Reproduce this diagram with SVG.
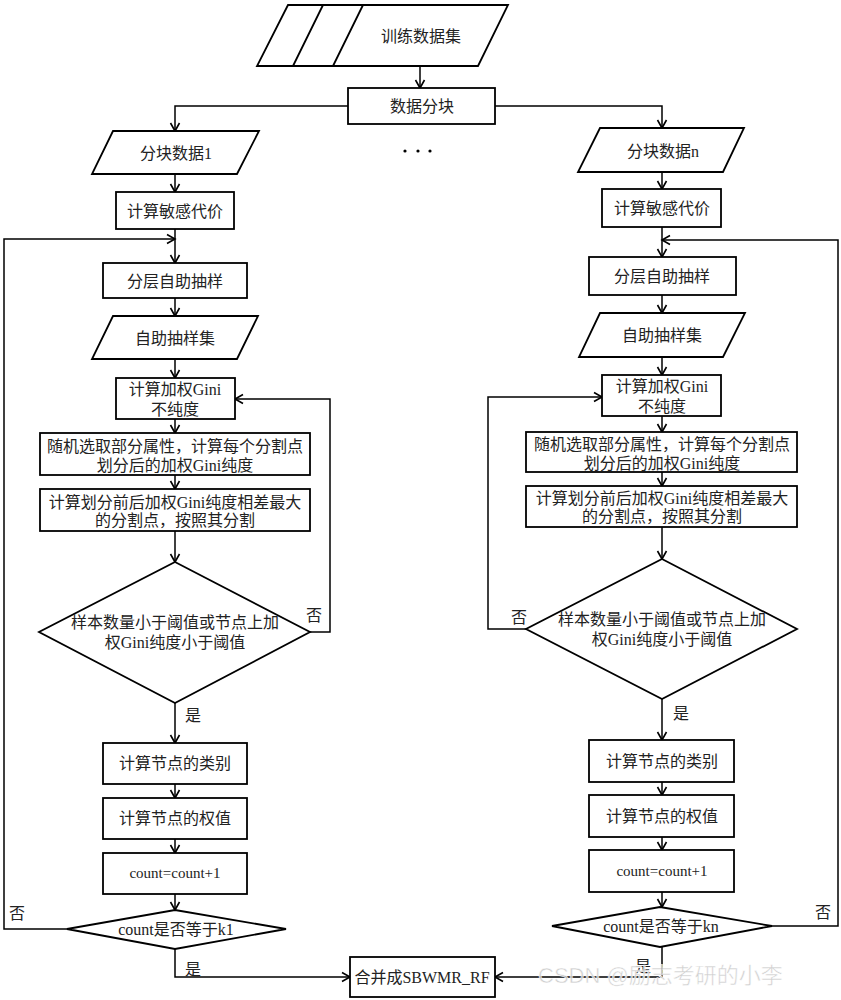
<svg xmlns="http://www.w3.org/2000/svg" width="841" height="1000" viewBox="0 0 841 1000">
<defs>
<marker id="arr" markerUnits="userSpaceOnUse" markerWidth="12" markerHeight="12" refX="9" refY="5" orient="auto" viewBox="0 0 12 10">
<path d="M1,0.5 L9,5 L1,9.5" fill="none" stroke="#000" stroke-width="1.6"/>
</marker>
<style>
.s{fill:#fff;stroke:#000;stroke-width:1.8}
.c{fill:none;stroke:#000;stroke-width:1.5}
.t{font-family:"Liberation Serif","Noto Sans CJK SC",serif;font-size:16px;fill:#222;text-anchor:middle;dominant-baseline:central}
.sm{font-size:15px}
.wm{font-family:"Liberation Sans","Noto Sans CJK SC",sans-serif;font-size:22px;fill:#c8c8c8;fill-opacity:0.85;stroke:#fff;stroke-width:0.5;text-anchor:start;dominant-baseline:central}
</style>
</defs>
<rect width="841" height="1000" fill="#fff"/>

<g id="connectors">
<path class="c" d="M420,66 V88" marker-end="url(#arr)"/>
<path class="c" d="M348,106 H175 V131" marker-end="url(#arr)"/>
<path class="c" d="M495,106 H662 V128" marker-end="url(#arr)"/>
<path class="c" d="M175,174 V192" marker-end="url(#arr)"/>
<path class="c" d="M175,229 V263" marker-end="url(#arr)"/>
<path class="c" d="M67,929 H4 V239 H175" marker-end="url(#arr)"/>
<path class="c" d="M175,298 V316" marker-end="url(#arr)"/>
<path class="c" d="M175,359 V378" marker-end="url(#arr)"/>
<path class="c" d="M175,419 V433" marker-end="url(#arr)"/>
<path class="c" d="M175,475 V489" marker-end="url(#arr)"/>
<path class="c" d="M175,531 V562" marker-end="url(#arr)"/>
<path class="c" d="M310,632 H330 V399 H235" marker-end="url(#arr)"/>
<path class="c" d="M175,703 V743" marker-end="url(#arr)"/>
<path class="c" d="M175,784 V798" marker-end="url(#arr)"/>
<path class="c" d="M175,839 V853" marker-end="url(#arr)"/>
<path class="c" d="M175,894 V910" marker-end="url(#arr)"/>
<path class="c" d="M175,949 V977 H350" marker-end="url(#arr)"/>

<path class="c" d="M662,172 V189" marker-end="url(#arr)"/>
<path class="c" d="M662,227 V257" marker-end="url(#arr)"/>
<path class="c" d="M772,926 H838 V240 H662" marker-end="url(#arr)"/>
<path class="c" d="M662,295 V313" marker-end="url(#arr)"/>
<path class="c" d="M662,357 V375" marker-end="url(#arr)"/>
<path class="c" d="M662,416 V432" marker-end="url(#arr)"/>
<path class="c" d="M662,472 V486" marker-end="url(#arr)"/>
<path class="c" d="M662,527 V559" marker-end="url(#arr)"/>
<path class="c" d="M526,629 H488 V397 H602" marker-end="url(#arr)"/>
<path class="c" d="M662,699 V740" marker-end="url(#arr)"/>
<path class="c" d="M662,782 V795" marker-end="url(#arr)"/>
<path class="c" d="M662,837 V850" marker-end="url(#arr)"/>
<path class="c" d="M662,892 V907" marker-end="url(#arr)"/>
<path class="c" d="M662,947 V977 H495" marker-end="url(#arr)"/>

<text class="t" x="314" y="615">否</text>
<text class="t" x="193" y="715">是</text>
<text class="t" x="17" y="913">否</text>
<text class="t" x="193" y="969">是</text>
<text class="t" x="519" y="617">否</text>
<text class="t" x="681" y="713">是</text>
<text class="t" x="823" y="912">否</text>
<text class="t" x="643" y="966">是</text>
</g>

<g id="train">
<polygon class="s" points="288,5 508,5 478,66 257,66"/>
<path class="c" d="M323,5 L293,66 M363,5 L333,66" style="stroke-width:1.8"/>
<text class="t" x="421" y="36">训练数据集</text>
</g>
<g id="split">
<rect class="s" x="348" y="88" width="147" height="36"/>
<text class="t" x="422" y="106">数据分块</text>
</g>
<g id="dots">
<circle cx="405" cy="151" r="1.6"/>
<circle cx="418" cy="151" r="1.6"/>
<circle cx="430" cy="151" r="1.6"/>
</g>

<g id="L_block">
<polygon class="s" points="113,131 259,131 237,174 92,174"/>
<text class="t" x="176" y="153">分块数据1</text>
</g>
<g id="L_cost">
<rect class="s" x="116" y="192" width="118" height="37"/>
<text class="t" x="175" y="211">计算敏感代价</text>
</g>
<g id="L_strat">
<rect class="s" x="103" y="263" width="144" height="35"/>
<text class="t" x="175" y="281">分层自助抽样</text>
</g>
<g id="L_bset">
<polygon class="s" points="113,316 258,316 237,359 92,359"/>
<text class="t" x="175" y="338">自助抽样集</text>
</g>
<g id="L_gini">
<rect class="s" x="116" y="378" width="119" height="41"/>
<text class="t" x="175" y="389">计算加权Gini</text>
<text class="t" x="175" y="409">不纯度</text>
</g>
<g id="L_rand">
<rect class="s" x="40" y="433" width="270" height="42"/>
<text class="t" x="175" y="446">随机选取部分属性，计算每个分割点</text>
<text class="t" x="175" y="465">划分后的加权Gini纯度</text>
</g>
<g id="L_best">
<rect class="s" x="40" y="489" width="270" height="42"/>
<text class="t" x="175" y="502">计算划分前后加权Gini纯度相差最大</text>
<text class="t" x="175" y="520">的分割点，按照其分割</text>
</g>
<g id="L_cond">
<polygon class="s" points="175,562 310,632 175,703 39,632"/>
<text class="t" x="175" y="622">样本数量小于阈值或节点上加</text>
<text class="t" x="175" y="642">权Gini纯度小于阈值</text>
</g>
<g id="L_class">
<rect class="s" x="103" y="743" width="144" height="41"/>
<text class="t" x="175" y="763">计算节点的类别</text>
</g>
<g id="L_weight">
<rect class="s" x="103" y="798" width="144" height="41"/>
<text class="t" x="175" y="818">计算节点的权值</text>
</g>
<g id="L_count">
<rect class="s" x="103" y="853" width="144" height="41"/>
<text class="t sm" x="175" y="873">count=count+1</text>
</g>
<g id="L_k">
<polygon class="s" points="175,910 286,929 175,949 67,929"/>
<text class="t" x="176" y="929">count是否等于k1</text>
</g>

<g id="R_block">
<polygon class="s" points="600,128 744,128 723,172 578,172"/>
<text class="t" x="663" y="151">分块数据n</text>
</g>
<g id="R_cost">
<rect class="s" x="602" y="189" width="119" height="38"/>
<text class="t" x="662" y="208">计算敏感代价</text>
</g>
<g id="R_strat">
<rect class="s" x="589" y="257" width="147" height="38"/>
<text class="t" x="662" y="276">分层自助抽样</text>
</g>
<g id="R_bset">
<polygon class="s" points="600,313 745,313 723,357 579,357"/>
<text class="t" x="662" y="335">自助抽样集</text>
</g>
<g id="R_gini">
<rect class="s" x="602" y="375" width="119" height="41"/>
<text class="t" x="662" y="386">计算加权Gini</text>
<text class="t" x="662" y="406">不纯度</text>
</g>
<g id="R_rand">
<rect class="s" x="526" y="432" width="271" height="40"/>
<text class="t" x="662" y="444">随机选取部分属性，计算每个分割点</text>
<text class="t" x="662" y="463">划分后的加权Gini纯度</text>
</g>
<g id="R_best">
<rect class="s" x="526" y="486" width="271" height="41"/>
<text class="t" x="662" y="498">计算划分前后加权Gini纯度相差最大</text>
<text class="t" x="662" y="516">的分割点，按照其分割</text>
</g>
<g id="R_cond">
<polygon class="s" points="662,559 797,629 662,699 526,629"/>
<text class="t" x="662" y="619">样本数量小于阈值或节点上加</text>
<text class="t" x="662" y="639">权Gini纯度小于阈值</text>
</g>
<g id="R_class">
<rect class="s" x="589" y="740" width="145" height="42"/>
<text class="t" x="662" y="761">计算节点的类别</text>
</g>
<g id="R_weight">
<rect class="s" x="589" y="795" width="145" height="42"/>
<text class="t" x="662" y="816">计算节点的权值</text>
</g>
<g id="R_count">
<rect class="s" x="589" y="850" width="145" height="42"/>
<text class="t sm" x="662" y="871">count=count+1</text>
</g>
<g id="R_k">
<polygon class="s" points="660,907 772,926 660,947 552,926"/>
<text class="t" x="661" y="926">count是否等于kn</text>
</g>

<g id="merge">
<rect class="s" x="350" y="957" width="145" height="40"/>
<text class="t" x="422" y="977">合并成SBWMR_RF</text>
</g>

<text class="wm" x="538" y="975">CSDN @励志考研的小李</text>
</svg>
